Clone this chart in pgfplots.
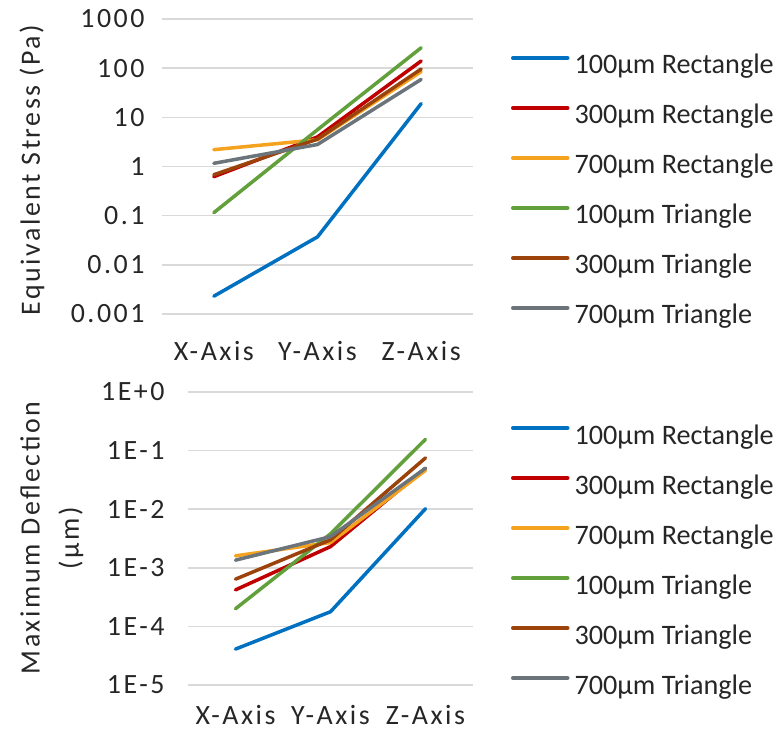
\documentclass[border=0pt]{standalone}
\usepackage{fontspec}
\setmainfont{Carlito}
\newfontfamily\axfont[LetterSpace=9]{Carlito}
\usepackage{pgfplots}
\pgfplotsset{compat=1.18}
\definecolor{cBlue}{HTML}{0070C0}
\definecolor{cRed}{HTML}{C00000}
\definecolor{cOrange}{HTML}{F5A21E}
\definecolor{cGreen}{HTML}{62A03C}
\definecolor{cBrown}{HTML}{9C430C}
\definecolor{cGray}{HTML}{6B737B}
\definecolor{cGrid}{HTML}{D9D9D9}
\definecolor{cText}{HTML}{262626}
\newcommand\fs{\fontsize{28.3}{33}\selectfont}
\newcommand\afs{\axfont\fontsize{28}{33}\selectfont}

\pgfplotsset{
  chartbase/.style={
    scale only axis,
    xmin=-0.5, xmax=2.5,
    xtick={0,1,2},
    xticklabels={X-Axis,Y-Axis,Z-Axis},
    ymajorgrids,
    grid style={line width=1.5bp, cGrid},
    axis x line*=bottom, axis y line*=left,
    axis line style={draw=none},
    tick style={draw=none},
    major tick length=0pt,
    tick label style={font=\afs, text=cText},
    every axis plot/.append style={line width=3.5bp, line cap=round, line join=round},
    legend cell align=left,
    legend image code/.code={\draw[##1] (0bp,9bp) -- (55bp,9bp); \path (60bp,9bp);},
    legend style={draw=none, fill=none, inner sep=0pt, outer sep=0pt,
      font=\fs, text=cText, row sep=24bp,
      nodes={inner sep=0pt, text height=20bp, text depth=6bp}},
  }
}

\begin{document}
\begin{tikzpicture}[x=1bp,y=1bp]
\useasboundingbox (0,0) rectangle (776,739);

% top: stress
\begin{axis}[ymode=log, chartbase,
  at={(162bp,425bp)}, anchor=south west,
  width=311bp, height=295bp,
  ymin=0.001, ymax=1000,
  ytick={0.001,0.01,0.1,1,10,100,1000},
  yticklabels={0.001,0.01,0.1,1,10,100,1000},
  yticklabel style={xshift=-14bp},
  xticklabel style={yshift=-24bp},
  legend style={at={(1,1)}, anchor=north west, xshift=38bp, yshift=-35bp},
]
\addplot[cBlue] coordinates {(0,0.0023) (1,0.037) (2,19)};
\addplot[cRed] coordinates {(0,0.62) (1,4.0) (2,140)};
\addplot[cOrange] coordinates {(0,2.2) (1,3.5) (2,85)};
\addplot[cGreen] coordinates {(0,0.115) (1,5.6) (2,260)};
\addplot[cBrown] coordinates {(0,0.68) (1,3.6) (2,96)};
\addplot[cGray] coordinates {(0,1.16) (1,2.8) (2,59)};
\legend{100µm Rectangle,300µm Rectangle,700µm Rectangle,100µm Triangle,300µm Triangle,700µm Triangle}
\end{axis}

% bottom: deflection
\begin{axis}[ymode=log, chartbase,
  at={(188bp,54bp)}, anchor=south west,
  width=285bp, height=293bp,
  ymin=1e-5, ymax=1,
  ytick={1e-5,1e-4,1e-3,1e-2,1e-1,1},
  yticklabels={1E-5,1E-4,1E-3,1E-2,1E-1,1E+0},
  yticklabel style={xshift=-20bp},
  xticklabel style={yshift=-17bp},
  legend style={at={(1,1)}, anchor=north west, xshift=38bp, yshift=-32bp},
]
\addplot[cBlue] coordinates {(0,4.1e-5) (1,1.78e-4) (2,0.0102)};
\addplot[cRed] coordinates {(0,4.2e-4) (1,2.3e-3) (2,0.05)};
\addplot[cOrange] coordinates {(0,1.6e-3) (1,2.7e-3) (2,0.046)};
\addplot[cGreen] coordinates {(0,2.0e-4) (1,3.8e-3) (2,0.156)};
\addplot[cBrown] coordinates {(0,6.4e-4) (1,3.0e-3) (2,0.075)};
\addplot[cGray] coordinates {(0,1.35e-3) (1,3.4e-3) (2,0.05)};
\legend{100µm Rectangle,300µm Rectangle,700µm Rectangle,100µm Triangle,300µm Triangle,700µm Triangle}
\end{axis}

\node[rotate=90, font=\afs, text=cText] at (32,569) {Equivalent Stress (Pa)};
\node[rotate=90, font=\afs, text=cText] at (30,201) {Maximum Deflection};
\node[rotate=90, font=\afs, text=cText] at (71,201) {(µm)};
\end{tikzpicture}
\end{document}
